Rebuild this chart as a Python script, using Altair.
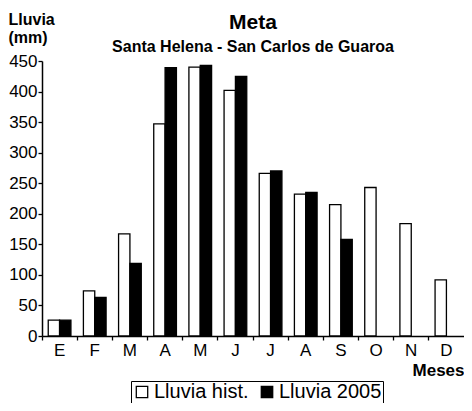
import altair as alt
import pandas as pd

meses = ["Enero", "Febrero", "Marzo", "Abril", "Mayo", "Junio", "Julio",
         "Agosto", "Septiembre", "Octubre", "Noviembre", "Diciembre"]
lluvia_hist = [26, 74, 167, 347, 440, 402, 266, 232, 215, 243, 184, 92]
lluvia_2005 = [26, 63, 119, 439, 443, 425, 270, 235, 158, None, None, None]
series = ["Lluvia hist.", "Lluvia 2005"]

rows = []
for m, h, v in zip(meses, lluvia_hist, lluvia_2005):
    rows.append({"mes": m, "serie": series[0], "valor": h})
    if v is not None:
        rows.append({"mes": m, "serie": series[1], "valor": v})
df = pd.DataFrame(rows)

FONT = "Liberation Sans"
W, H = 422, 275

chart = alt.Chart(df).mark_bar(stroke="black", strokeWidth=1.3).encode(
    x=alt.X("mes:N", sort=meses,
            scale=alt.Scale(paddingInner=0, paddingOuter=0),
            axis=alt.Axis(title="Meses", labelAngle=0, bandPosition=0,
                          labelExpr="substring(datum.label,0,1)",
                          labelFont=FONT, labelFontSize=17, labelColor="black",
                          labelPadding=2, tickSize=4, tickColor="black",
                          domainColor="black", domainWidth=1.5, tickWidth=1.3,
                          titleFont=FONT, titleFontSize=17, titleFontWeight="bold",
                          titleColor="black", titleAlign="right", titleAnchor="end",
                          titleX=W, titleY=39, titleBaseline="alphabetic")),
    xOffset=alt.XOffset("serie:N", sort=series,
                        scale=alt.Scale(paddingOuter=0.55, paddingInner=0)),
    y=alt.Y("valor:Q", scale=alt.Scale(domain=[0, 450]),
            axis=alt.Axis(title=["Lluvia", "(mm)"], values=list(range(0, 451, 50)),
                          grid=False, labelFont=FONT, labelFontSize=17,
                          labelColor="black", labelPadding=1, tickSize=4,
                          tickColor="black", tickWidth=1.3, domainColor="black",
                          domainWidth=1.5,
                          titleFont=FONT, titleFontSize=16, titleFontWeight="bold",
                          titleColor="black", titleAngle=0, titleAlign="left",
                          titleBaseline="alphabetic", titleX=-34, titleY=-37,
                          titleLineHeight=18)),
    fill=alt.Fill("serie:N", sort=series,
                  scale=alt.Scale(domain=series, range=["white", "black"]),
                  legend=alt.Legend(title=None, orient="none", legendX=89,
                                    legendY=320, direction="horizontal",
                                    symbolType="square", symbolSize=130,
                                    symbolStrokeColor="black",
                                    symbolStrokeWidth=1.3,
                                    labelFont=FONT, labelFontSize=20,
                                    labelColor="black", labelOffset=2,
                                    columnPadding=8, padding=1,
                                    strokeColor="black", fillColor="white")),
).properties(
    width=W, height=H,
    title=alt.TitleParams(text="Meta", subtitle="Santa Helena - San Carlos de Guaroa",
                          anchor="middle", frame="group", font=FONT, fontSize=21,
                          fontWeight="bold", color="black", subtitleFont=FONT,
                          subtitleFontSize=16, subtitleFontWeight="bold",
                          subtitleColor="black", subtitlePadding=6, offset=-44),
    autosize=alt.AutoSizeParams(type="none"),
    padding={"left": 34, "top": 53, "right": 0, "bottom": 67},
).configure_view(stroke=None)

chart.save("out.html", embed_options={"renderer": "svg", "actions": False})
